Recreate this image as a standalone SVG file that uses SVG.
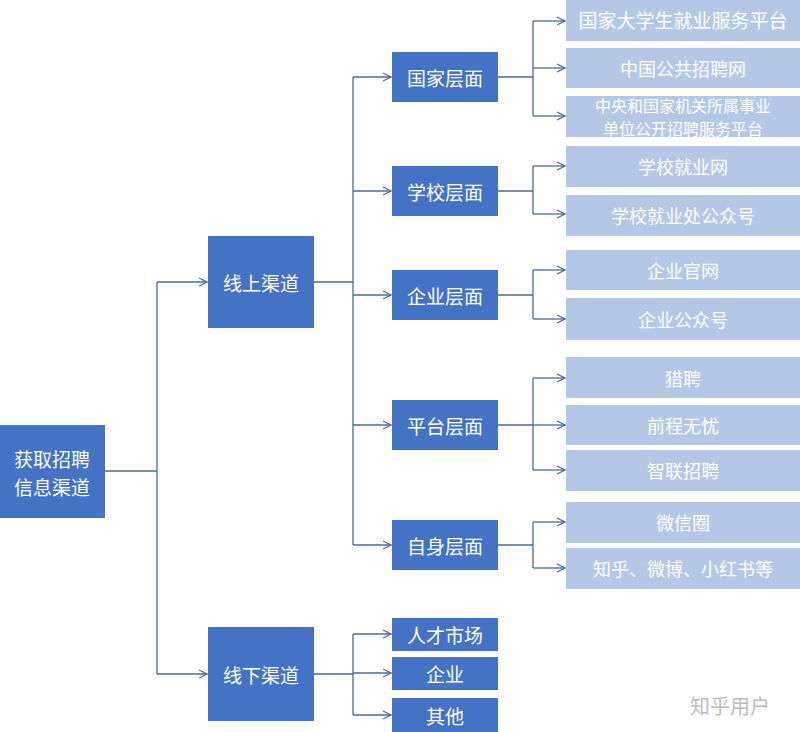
<svg xmlns="http://www.w3.org/2000/svg" width="800" height="732" viewBox="0 0 800 732">
<defs>
<marker id="ar" markerWidth="10" markerHeight="10" refX="9" refY="5" orient="auto" markerUnits="userSpaceOnUse"><path d="M1,1 L9,5 L1,9" fill="none" stroke="#4a6a9a" stroke-width="1.2"/></marker>
<style>
.d{fill:#4472c4}.l{fill:#b4c7e7}
text{font-family:"Noto Sans CJK SC","Liberation Sans",sans-serif;fill:#fff;text-anchor:middle;dominant-baseline:central}
.t{font-size:19px}.s{font-size:18px}.m{font-size:16px}
.c{fill:none;stroke:#4a6a9a;stroke-width:1.3}
</style>
</defs>
<rect width="800" height="732" fill="#fff"/>
<g id="connectors">
<path class="c" d="M105,471 H157 M157,282 V674"/>
<path class="c" d="M157,282 H207" marker-end="url(#ar)"/>
<path class="c" d="M157,674 H207" marker-end="url(#ar)"/>
<path class="c" d="M314,282 H353 M353,77 V545"/>
<path class="c" d="M353,77 H391" marker-end="url(#ar)"/>
<path class="c" d="M353,191 H391" marker-end="url(#ar)"/>
<path class="c" d="M353,295 H391" marker-end="url(#ar)"/>
<path class="c" d="M353,425 H391" marker-end="url(#ar)"/>
<path class="c" d="M353,545 H391" marker-end="url(#ar)"/>
<path class="c" d="M314,674 H353 M353,634 V715"/>
<path class="c" d="M353,634 H391" marker-end="url(#ar)"/>
<path class="c" d="M353,673 H391" marker-end="url(#ar)"/>
<path class="c" d="M353,715 H391" marker-end="url(#ar)"/>
<path class="c" d="M498,77 H533 M533,21 V116 M498,191 H533 M533,166 V214 M498,295 H533 M533,270 V319 M498,425 H533 M533,378 V470 M498,545 H533 M533,522 V568"/>
<path class="c" d="M533,21 H565" marker-end="url(#ar)"/>
<path class="c" d="M533,68 H565" marker-end="url(#ar)"/>
<path class="c" d="M533,116 H565" marker-end="url(#ar)"/>
<path class="c" d="M533,166 H565" marker-end="url(#ar)"/>
<path class="c" d="M533,214 H565" marker-end="url(#ar)"/>
<path class="c" d="M533,270 H565" marker-end="url(#ar)"/>
<path class="c" d="M533,319 H565" marker-end="url(#ar)"/>
<path class="c" d="M533,378 H565" marker-end="url(#ar)"/>
<path class="c" d="M533,425 H565" marker-end="url(#ar)"/>
<path class="c" d="M533,470 H565" marker-end="url(#ar)"/>
<path class="c" d="M533,522 H565" marker-end="url(#ar)"/>
<path class="c" d="M533,568 H565" marker-end="url(#ar)"/>
</g>
<g id="root"><rect class="d" x="0" y="425" width="105" height="93"/><text class="t" x="52" y="458">获取招聘</text><text class="t" x="52" y="486">信息渠道</text></g>
<g id="online"><rect class="d" x="208" y="236" width="106" height="92"/><text class="t" x="261" y="282">线上渠道</text></g>
<g id="offline"><rect class="d" x="208" y="627" width="106" height="94"/><text class="t" x="261" y="674">线下渠道</text></g>
<g id="n1"><rect class="d" x="392" y="52" width="106" height="50"/><text class="t" x="445" y="77">国家层面</text></g>
<g id="n2"><rect class="d" x="392" y="166" width="106" height="50"/><text class="t" x="445" y="191">学校层面</text></g>
<g id="n3"><rect class="d" x="392" y="270" width="106" height="50"/><text class="t" x="445" y="295">企业层面</text></g>
<g id="n4"><rect class="d" x="392" y="400" width="106" height="50"/><text class="t" x="445" y="425">平台层面</text></g>
<g id="n5"><rect class="d" x="392" y="520" width="106" height="50"/><text class="t" x="445" y="545">自身层面</text></g>
<g id="o1"><rect class="d" x="392" y="618" width="106" height="33"/><text class="t" x="445" y="634">人才市场</text></g>
<g id="o2"><rect class="d" x="392" y="657" width="106" height="33"/><text class="t" x="445" y="673">企业</text></g>
<g id="o3"><rect class="d" x="392" y="698" width="106" height="34"/><text class="t" x="445" y="715">其他</text></g>
<g id="l1"><rect class="l" x="566" y="0" width="234" height="41"/><text class="t" x="683" y="19">国家大学生就业服务平台</text></g>
<g id="l2"><rect class="l" x="566" y="48" width="234" height="40"/><text class="s" x="683" y="68">中国公共招聘网</text></g>
<g id="l3"><rect class="l" x="566" y="96" width="234" height="41"/><text class="m" x="683" y="105">中央和国家机关所属事业</text><text class="m" x="683" y="128">单位公开招聘服务平台</text></g>
<g id="l4"><rect class="l" x="566" y="146" width="234" height="41"/><text class="s" x="683" y="166">学校就业网</text></g>
<g id="l5"><rect class="l" x="566" y="195" width="234" height="41"/><text class="s" x="683" y="215">学校就业处公众号</text></g>
<g id="l6"><rect class="l" x="566" y="250" width="234" height="40"/><text class="s" x="683" y="270">企业官网</text></g>
<g id="l7"><rect class="l" x="566" y="298" width="234" height="42"/><text class="s" x="683" y="319">企业公众号</text></g>
<g id="l8"><rect class="l" x="566" y="357" width="234" height="41"/><text class="s" x="683" y="378">猎聘</text></g>
<g id="l9"><rect class="l" x="566" y="405" width="234" height="40"/><text class="s" x="683" y="425">前程无忧</text></g>
<g id="l10"><rect class="l" x="566" y="450" width="234" height="41"/><text class="s" x="683" y="470">智联招聘</text></g>
<g id="l11"><rect class="l" x="566" y="502" width="234" height="41"/><text class="s" x="683" y="522">微信圈</text></g>
<g id="l12"><rect class="l" x="566" y="548" width="234" height="41"/><text class="s" x="683" y="568">知乎、微博、小红书等</text></g>
<text x="730" y="705" style="fill:#bbb;font-size:20px">知乎用户</text>
</svg>
